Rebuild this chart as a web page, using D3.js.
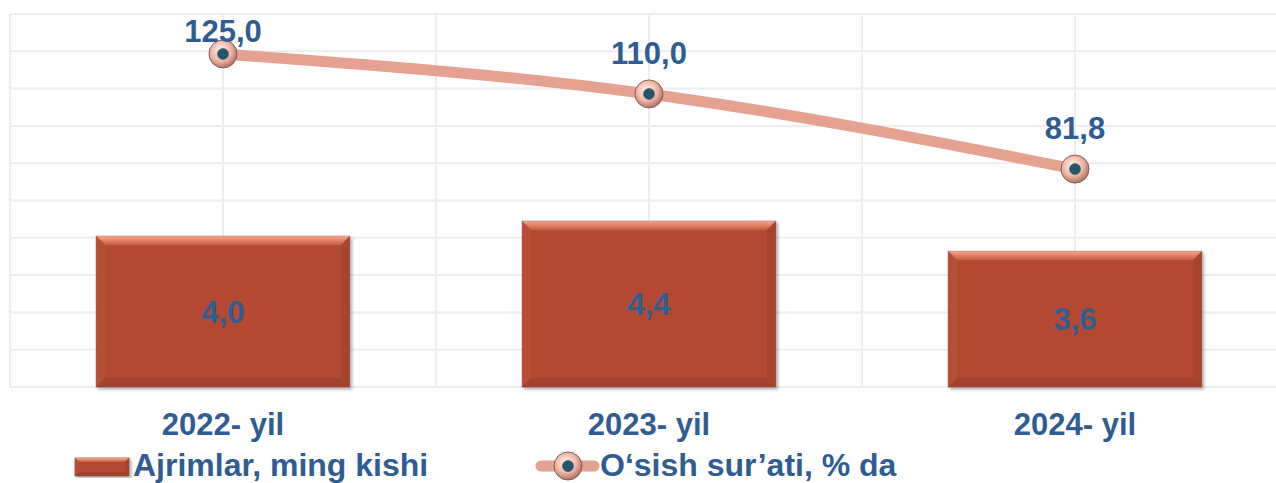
<!DOCTYPE html>
<html>
<head>
<meta charset="utf-8">
<script src="https://cdn.jsdelivr.net/npm/d3@7"></script>
<style>
  body { margin: 0; background: #fff; }
  svg { display: block; font-family: "Liberation Sans", Arial, sans-serif; font-weight: bold; }
</style>
</head>
<body>
<div id="chart"></div>
<script>
// data
var categories = ['2022- yil', '2023- yil', '2024- yil'];
var ajrimlar = [4.0, 4.4, 3.6];          // ming kishi (bars)
var osish = [125.0, 110.0, 81.8];        // o'sish sur'ati, % (line)
var barLabels = ['4,0', '4,4', '3,6'];
var lineLabels = ['125,0', '110,0', '81,8'];
var legendNames = ['Ajrimlar, ming kishi', 'O\u2018sish sur\u2019ati, % da'];

var width = 1276, height = 483;
var plotTop = 14, plotBottom = 387, plotLeft = 10;
var textColor = '#2f5d92';

var svg = d3.select('#chart').append('svg')
    .attr('width', width)
    .attr('height', height);

var defs = svg.append('defs');

// marker gradient
var rg = defs.append('radialGradient').attr('id', 'ball')
    .attr('cx', '42%').attr('cy', '38%').attr('r', '62%');
rg.append('stop').attr('offset', '0%').attr('stop-color', '#fff3ee');
rg.append('stop').attr('offset', '60%').attr('stop-color', '#f0b6a5');
rg.append('stop').attr('offset', '100%').attr('stop-color', '#b07264');

var tg = defs.append('linearGradient').attr('id', 'topBevel')
    .attr('x1', 0).attr('y1', 0).attr('x2', 0).attr('y2', 1);
tg.append('stop').attr('offset', '0%').attr('stop-color', '#f9a58c');
tg.append('stop').attr('offset', '100%').attr('stop-color', '#c45840');

var sh = defs.append('filter').attr('id', 'shadow')
    .attr('x', '-10%').attr('y', '-10%').attr('width', '120%').attr('height', '120%');
sh.append('feDropShadow').attr('dx', 2).attr('dy', 2).attr('stdDeviation', 1.5)
    .attr('flood-color', '#000').attr('flood-opacity', 0.3);

// scales
var x = d3.scaleBand().domain(categories).range([plotLeft, plotLeft + 3 * 426]).padding(0);
var yBar = d3.scaleLinear().domain([0, 9.9]).range([plotBottom, plotTop]);
var yLine = d3.scaleLinear().domain([0, 140]).range([plotBottom, plotTop]);

// grid
var grid = svg.append('g').attr('stroke', '#eeeeee').attr('stroke-width', 2);
grid.selectAll('line.h')
    .data(d3.range(0, 141, 14))
    .join('line')
    .attr('class', 'h')
    .attr('x1', plotLeft).attr('x2', width)
    .attr('y1', d => yLine(d)).attr('y2', d => yLine(d));
grid.selectAll('line.v')
    .data(d3.range(0, 6))
    .join('line')
    .attr('class', 'v')
    .attr('x1', d => plotLeft + d * x.bandwidth() / 2)
    .attr('x2', d => plotLeft + d * x.bandwidth() / 2)
    .attr('y1', plotTop).attr('y2', plotBottom);

// bevelled bar
function drawBar(g, bx, by, bw, bh, b) {
    g.append('rect').attr('x', bx).attr('y', by).attr('width', bw).attr('height', bh)
        .attr('fill', '#b34a32').attr('stroke', '#8c7070').attr('stroke-width', 1)
        .attr('filter', 'url(#shadow)');
    var pts = function (a) { return a.map(p => p.join(',')).join(' '); };
    g.append('polygon').attr('fill', 'url(#topBevel)')
        .attr('points', pts([[bx, by], [bx + bw, by], [bx + bw - b, by + b], [bx + b, by + b]]));
    g.append('polygon').attr('fill', '#b84e36')
        .attr('points', pts([[bx, by], [bx + b, by + b], [bx + b, by + bh - b], [bx, by + bh]]));
    g.append('polygon').attr('fill', '#a8432e')
        .attr('points', pts([[bx + bw, by], [bx + bw, by + bh], [bx + bw - b, by + bh - b], [bx + bw - b, by + b]]));
    g.append('polygon').attr('fill', '#a2412d')
        .attr('points', pts([[bx, by + bh], [bx + bw, by + bh], [bx + bw - b, by + bh - b], [bx + b, by + bh - b]]));
}

var barW = x.bandwidth() * 0.595;
var bars = svg.append('g');
categories.forEach(function (c, i) {
    var cx = x(c) + x.bandwidth() / 2;
    var y0 = yBar(ajrimlar[i]);
    drawBar(bars.append('g'), cx - barW / 2, y0, barW, plotBottom - y0, 9);
    bars.append('text')
        .attr('x', cx).attr('y', (y0 + plotBottom) / 2 + 11)
        .attr('text-anchor', 'middle')
        .attr('font-size', 31).attr('fill', textColor)
        .text(barLabels[i]);
});

// line
var pts = categories.map((c, i) => [x(c) + x.bandwidth() / 2, yLine(osish[i])]);
svg.append('path')
    .attr('d', d3.line().curve(d3.curveMonotoneX)(pts))
    .attr('fill', 'none')
    .attr('stroke', '#e6a291')
    .attr('stroke-width', 11)
    .attr('stroke-linecap', 'round');

function marker(g, cx, cy) {
    g.append('circle').attr('cx', cx).attr('cy', cy).attr('r', 14)
        .attr('fill', 'url(#ball)').attr('stroke', '#8a5a50').attr('stroke-width', 1);
    g.append('circle').attr('cx', cx).attr('cy', cy).attr('r', 5.5)
        .attr('fill', '#1f5a6c').attr('stroke', '#3a3a4a').attr('stroke-width', 0.5);
}

var marks = svg.append('g');
pts.forEach(function (p, i) {
    marker(marks, p[0], p[1]);
    marks.append('text')
        .attr('x', p[0]).attr('y', Math.max(p[1] - 30, plotTop + 28))
        .attr('text-anchor', 'middle')
        .attr('font-size', 31).attr('fill', textColor)
        .text(lineLabels[i]);
});

// category labels
svg.append('g').selectAll('text')
    .data(categories)
    .join('text')
    .attr('x', d => x(d) + x.bandwidth() / 2)
    .attr('y', 435)
    .attr('text-anchor', 'middle')
    .attr('font-size', 31).attr('fill', textColor)
    .text(d => d);

// legend
var lg = svg.append('g');
drawBar(lg.append('g'), 75, 458, 54, 18, 4);
lg.append('text').attr('x', 133).attr('y', 476)
    .attr('font-size', 32).attr('fill', textColor).text(legendNames[0]);

lg.append('line').attr('x1', 541).attr('x2', 594).attr('y1', 466).attr('y2', 466)
    .attr('stroke', '#e6a291').attr('stroke-width', 11).attr('stroke-linecap', 'round');
marker(lg, 568, 466);
lg.append('text').attr('x', 600).attr('y', 476)
    .attr('font-size', 32).attr('fill', textColor).text(legendNames[1]);
</script>
</body>
</html>
